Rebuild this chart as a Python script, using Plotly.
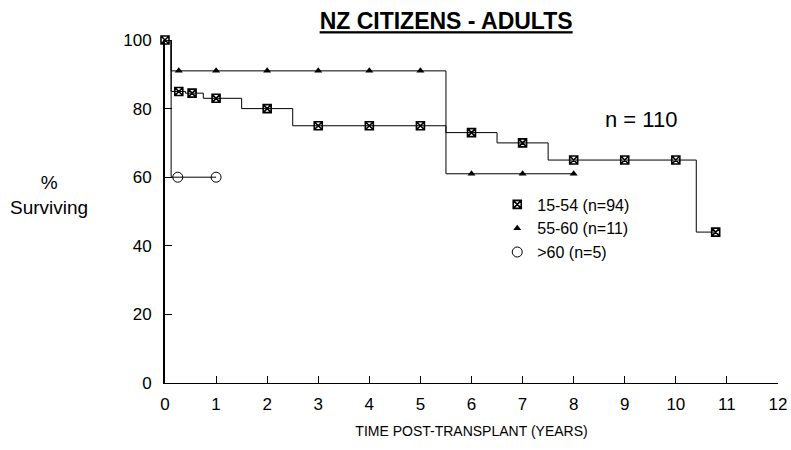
import plotly.graph_objects as go

# 15-54 group
sq_step_t = [0, 0.12, 0.4, 0.75, 1.5, 2.5, 5.5, 6.5, 7.5, 10.4, 10.8]
sq_step_s = [100, 85, 84.5, 83, 80, 75, 73, 70, 65, 44, 44]
sq_mark_t = [0, 0.27, 0.53, 1, 2, 3, 4, 5, 6, 7, 8, 9, 10, 10.78]
sq_mark_s = [100, 85, 84.5, 83, 80, 75, 75, 75, 73, 70, 65, 65, 65, 44]

# 55-60 group
tr_step_t = [0, 0.12, 5.5, 8]
tr_step_s = [100, 91, 61, 61]
tr_mark_t = [0.27, 1, 2, 3, 4, 5, 6, 7, 8]
tr_mark_s = [91, 91, 91, 91, 91, 91, 61, 61, 61]

# >60 group
ci_step_t = [0, 0.12, 1]
ci_step_s = [100, 60, 60]
ci_mark_t = [0.25, 1]
ci_mark_s = [60, 60]

names = ["15-54 (n=94)", "55-60 (n=11)", ">60 (n=5)"]
x_ticks = list(range(0, 13))
y_ticks = [0, 20, 40, 60, 80, 100]

fig = go.Figure()
for st, ss in [(sq_step_t, sq_step_s), (tr_step_t, tr_step_s), (ci_step_t, ci_step_s)]:
    fig.add_trace(go.Scatter(x=st, y=ss, mode="lines", line=dict(color="black", width=1, shape="hv"),
                             showlegend=False, cliponaxis=False, hoverinfo="skip"))

fig.add_trace(go.Scatter(x=sq_mark_t, y=sq_mark_s, mode="markers", name=names[0], cliponaxis=False,
                         marker=dict(symbol="square-x-open", size=8, color="black", line=dict(color="black", width=1.6))))
fig.add_trace(go.Scatter(x=tr_mark_t, y=tr_mark_s, mode="markers", name=names[1], cliponaxis=False,
                         marker=dict(symbol="triangle-up", size=7, color="black")))
fig.add_trace(go.Scatter(x=ci_mark_t, y=ci_mark_s, mode="markers", name=names[2], cliponaxis=False,
                         marker=dict(symbol="circle-open", size=10, color="black", line=dict(color="black", width=1))))

font = "Arial, Liberation Sans, sans-serif"
fig.update_layout(
    width=791, height=450,
    margin=dict(l=165, r=13, t=40, b=67),
    paper_bgcolor="white", plot_bgcolor="white",
    font=dict(family=font, color="black", size=16),
    title=dict(text="<b><u>NZ CITIZENS - ADULTS</u></b>", x=0.564, xanchor="center", y=0.953, yanchor="middle",
               font=dict(size=23, family=font, color="black")),
    xaxis=dict(range=[0, 12], tickvals=x_ticks, ticks="inside", ticklen=7, tickcolor="black",
               showline=True, linecolor="black", linewidth=1, showgrid=False, zeroline=False,
               tickfont=dict(size=17), ticklabelstandoff=6, automargin=False,
               title=dict(text="TIME POST-TRANSPLANT (YEARS)", font=dict(size=14), standoff=12)),
    yaxis=dict(range=[0, 100], tickvals=y_ticks, ticks="inside", ticklen=7, tickcolor="black",
               showline=True, linecolor="black", linewidth=2, showgrid=False, zeroline=False,
               tickfont=dict(size=17), ticklabelstandoff=8, automargin=False),
    legend=dict(x=0.542, y=0.57, xanchor="left", yanchor="top", bgcolor="rgba(0,0,0,0)",
                font=dict(size=16), itemwidth=30, tracegroupgap=0),
    showlegend=True,
)
fig.add_annotation(text="n = 110", x=0.777, y=0.767, xref="paper", yref="paper", showarrow=False,
                   font=dict(size=22), xanchor="center", yanchor="middle")
fig.add_annotation(text="%<br>Surviving", x=-0.189, y=0.548, xref="paper", yref="paper", showarrow=False,
                   font=dict(size=19), xanchor="center", yanchor="middle", align="center")

fig.write_html("out.html")
